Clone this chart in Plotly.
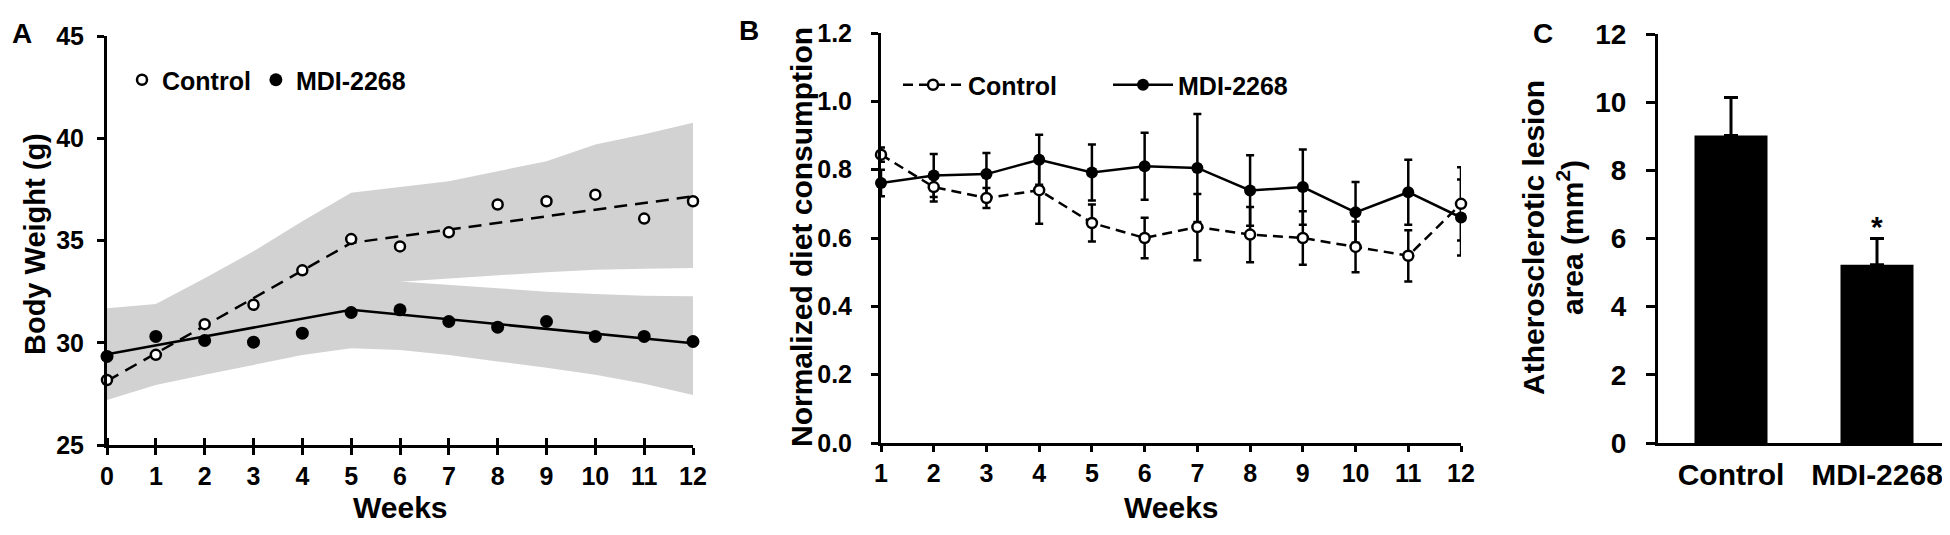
import plotly.graph_objects as go

# ---------------- Panel A: body weight ----------------
weeks_a = list(range(0, 13))
bw_control = [28.18, 29.41, 30.91, 31.86, 33.54, 35.07, 34.71, 35.40, 36.76, 36.92, 37.24, 36.07, 36.92]
bw_mdi = [29.33, 30.31, 30.11, 30.03, 30.47, 31.48, 31.61, 31.04, 30.76, 31.04, 30.31, 30.31, 30.06]

trend_weeks = [0, 5, 12]
trend_control = [28.13, 34.88, 37.16]
trend_mdi = [29.44, 31.61, 29.98]

band_control_upper = [31.69, 31.89, 33.16, 34.47, 35.94, 37.33, 37.62, 37.90, 38.39, 38.88, 39.69, 40.20, 40.76]
band_control_lower = [28.00, 28.60, 29.40, 30.20, 31.00, 32.60, 32.98, 33.15, 33.30, 33.45, 33.57, 33.62, 33.65]
band_mdi_upper = [31.40, 31.70, 32.10, 32.50, 33.00, 33.40, 33.00, 32.85, 32.67, 32.50, 32.38, 32.30, 32.27]
band_mdi_lower = [27.20, 27.94, 28.43, 28.90, 29.40, 29.73, 29.65, 29.40, 29.08, 28.78, 28.43, 28.00, 27.45]

# ---------------- Panel B: diet consumption ----------------
weeks_b = list(range(1, 13))
diet_control = [0.844, 0.749, 0.717, 0.740, 0.644, 0.600, 0.632, 0.610, 0.600, 0.574, 0.548, 0.700]
diet_control_err = [0.021, 0.042, 0.029, 0.098, 0.054, 0.059, 0.097, 0.081, 0.078, 0.074, 0.075, 0.107]
diet_mdi = [0.761, 0.783, 0.787, 0.829, 0.792, 0.810, 0.805, 0.739, 0.749, 0.675, 0.734, 0.660]
diet_mdi_err = [0.039, 0.063, 0.062, 0.073, 0.082, 0.098, 0.158, 0.103, 0.110, 0.089, 0.095, 0.111]

# ---------------- Panel C: lesion area ----------------
groups_c = ["Control", "MDI-2268"]
lesion_area = [9.02, 5.23]
lesion_err = [1.12, 0.77]
lesion_sig = ["", "*"]

BAND = "rgb(210,210,210)"
FONT = "Liberation Sans, Arial, sans-serif"

fig = go.Figure()

# Bands (panel A)
fig.add_trace(go.Scatter(x=weeks_a + weeks_a[::-1], y=band_control_upper + band_control_lower[::-1],
                         fill="toself", fillcolor=BAND, line=dict(width=0), mode="lines",
                         showlegend=False, hoverinfo="skip", xaxis="x", yaxis="y"))
fig.add_trace(go.Scatter(x=weeks_a + weeks_a[::-1], y=band_mdi_upper + band_mdi_lower[::-1],
                         fill="toself", fillcolor=BAND, line=dict(width=0), mode="lines",
                         showlegend=False, hoverinfo="skip", xaxis="x", yaxis="y"))
# Trend lines
fig.add_trace(go.Scatter(x=trend_weeks, y=trend_control, mode="lines",
                         line=dict(color="black", width=2.5, dash="13px,8px"),
                         showlegend=False, xaxis="x", yaxis="y"))
fig.add_trace(go.Scatter(x=trend_weeks, y=trend_mdi, mode="lines",
                         line=dict(color="black", width=2.5),
                         showlegend=False, xaxis="x", yaxis="y"))
# Points
fig.add_trace(go.Scatter(x=weeks_a, y=bw_control, mode="markers", name="Control",
                         marker=dict(symbol="circle", size=10, color="white",
                                     line=dict(color="black", width=2.5)),
                         cliponaxis=False, legend="legend", xaxis="x", yaxis="y"))
fig.add_trace(go.Scatter(x=weeks_a, y=bw_mdi, mode="markers", name="MDI-2268",
                         marker=dict(symbol="circle", size=13, color="black"),
                         cliponaxis=False, legend="legend", xaxis="x", yaxis="y"))

# Panel B
fig.add_trace(go.Scatter(x=weeks_b, y=diet_mdi, mode="lines+markers", name="MDI-2268",
                         line=dict(color="black", width=2.5),
                         marker=dict(symbol="circle", size=12, color="black"),
                         error_y=dict(type="data", array=diet_mdi_err, visible=True,
                                      color="black", thickness=2.5, width=4),
                         cliponaxis=False, legend="legend2", legendrank=2, xaxis="x2", yaxis="y2"))
fig.add_trace(go.Scatter(x=weeks_b, y=diet_control, mode="lines+markers", name="Control",
                         line=dict(color="black", width=2.5, dash="10px,6px"),
                         marker=dict(symbol="circle", size=10, color="white",
                                     line=dict(color="black", width=2.5)),
                         error_y=dict(type="data", array=diet_control_err, visible=True,
                                      color="black", thickness=2.5, width=4),
                         cliponaxis=False, legend="legend2", legendrank=1, xaxis="x2", yaxis="y2"))

# Panel C
fig.add_trace(go.Bar(x=groups_c, y=lesion_area, width=0.5, marker=dict(color="black", line=dict(width=0)),
                     error_y=dict(type="data", array=lesion_err, arrayminus=[0, 0], visible=True,
                                  color="black", thickness=3, width=7),
                     showlegend=False, xaxis="x3", yaxis="y3"))

def px(x):
    return x / 1950.0

def py(y):
    return 1 - y / 535.0

axis_common = dict(showline=True, linecolor="black", linewidth=3, showgrid=False, zeroline=False,
                   tickcolor="black", tickwidth=3, tickfont=dict(size=25, color="black"))

fig.update_layout(
    width=1950, height=535,
    margin=dict(l=0, r=0, t=0, b=0, pad=0, autoexpand=False),
    paper_bgcolor="white", plot_bgcolor="white",
    font=dict(family=FONT, color="black", size=25, weight="bold"),
    xaxis=dict(domain=[px(99), px(685)], range=[0, 12], anchor="y",
               tickmode="array", tickvals=weeks_a, ticks="outside", ticklen=7,
               ticklabelstandoff=0,
               minor=dict(tickmode="array", tickvals=[w + 0.002 for w in weeks_a], ticks="inside",
                          ticklen=7, tickwidth=3, tickcolor="black", showgrid=False),
               **axis_common),
    yaxis=dict(domain=[py(437), py(28)], range=[25, 45], anchor="x",
               tickmode="array", tickvals=[25, 30, 35, 40, 45], ticks="outside", ticklen=7,
               ticklabelstandoff=8, **axis_common),
    xaxis2=dict(domain=[px(873), px(1453)], range=[1, 12], anchor="y2",
                tickmode="array", tickvals=weeks_b, ticks="outside", ticklen=6,
                ticklabelstandoff=0, **axis_common),
    yaxis2=dict(domain=[py(435), py(25)], range=[0, 1.2], anchor="x2",
                tickmode="array", tickvals=[0, 0.2, 0.4, 0.6, 0.8, 1.0, 1.2],
                ticktext=["0.0", "0.2", "0.4", "0.6", "0.8", "1.0", "1.2"],
                ticks="outside", ticklen=7, ticklabelstandoff=14, **axis_common),
    xaxis3=dict(domain=[px(1650), px(1942)], range=[-0.5, 1.5], anchor="y3",
                showline=True, linecolor="black", linewidth=3, showgrid=False, zeroline=False,
                ticks="", tickfont=dict(size=30, color="black"), ticklabelstandoff=3),
    yaxis3=dict(domain=[py(435), py(26)], range=[0, 12], anchor="x3",
                tickmode="array", tickvals=[0, 2, 4, 6, 8, 10, 12], ticks="outside", ticklen=9,
                ticklabelstandoff=14,
                showline=True, linecolor="black", linewidth=3, showgrid=False, zeroline=False,
                tickcolor="black", tickwidth=3, tickfont=dict(size=28, color="black")),
    legend=dict(orientation="h", x=px(114), y=py(72), xanchor="left", yanchor="middle",
                font=dict(size=25, color="black"), bgcolor="rgba(0,0,0,0)", itemwidth=30,
                tracegroupgap=0),
    legend2=dict(orientation="h", x=px(890), y=py(77), xanchor="left", yanchor="middle",
                 font=dict(size=25, color="black"), bgcolor="rgba(0,0,0,0)", itemwidth=60,
                 entrywidth=135, entrywidthmode="pixels", traceorder="normal"),
    showlegend=True,
)

ann = []
def label(text, x, y, size, angle=0):
    ann.append(dict(text=text, x=px(x), y=py(y), xref="paper", yref="paper", showarrow=False,
                    xanchor="center", yanchor="middle", textangle=angle,
                    font=dict(size=size, color="black", family=FONT, weight="bold")))

label("A", 14, 25, 28)
label("B", 741, 23, 28)
label("C", 1535, 25, 28)
label("Body Weight (g)", 27, 236, 29, -90)
label("Weeks", 392, 499, 30)
label("Normalized diet consumption", 793, 229, 30, -90)
label("Weeks", 1163, 499, 30)
label("Atherosclerotic lesion<br>area (mm<sup>2</sup>)", 1545, 230, 30, -90)

for g, v, e, s in zip(groups_c, lesion_area, lesion_err, lesion_sig):
    if s:
        ann.append(dict(text=s, x=g, y=v + e, xref="x3", yref="y3", showarrow=False,
                        xanchor="center", yanchor="bottom", yshift=-6,
                        font=dict(size=30, color="black", family=FONT, weight="bold")))

fig.update_layout(annotations=ann)

fig.write_html("out.html")
